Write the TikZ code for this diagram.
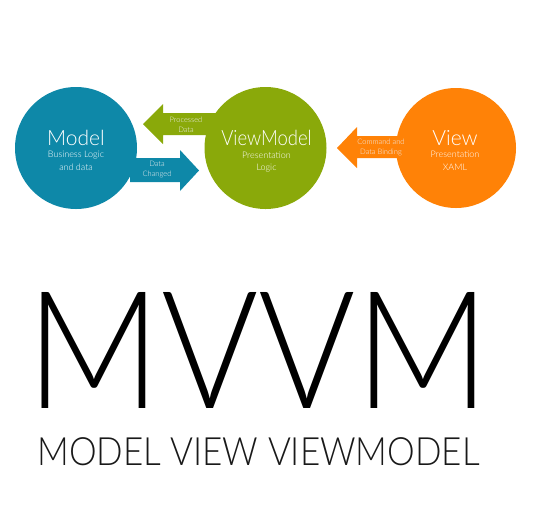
\documentclass[tikz,border=0pt]{standalone}
\usepackage{fontspec}
\usepackage{graphicx}
\setmainfont{Lato Light}
\begin{document}
\begin{tikzpicture}[x=1pt,y=-1pt,
  bubble/.style={circle, inner sep=0pt, minimum size=122pt},
  title/.style={anchor=base, text=white, font=\fontsize{21}{21}\selectfont},
  sub/.style={text=white, font=\fontsize{9}{12.5}\selectfont, align=center},
  lbl/.style={text=white!90!gray, font=\fontsize{7.5}{10}\selectfont, align=center}]
\definecolor{modelc}{HTML}{0E88A8}
\definecolor{vmc}{HTML}{8AA90A}
\definecolor{viewc}{HTML}{FF8207}
\useasboundingbox (0,0) rectangle (538,515);

% block arrows, drawn under the circles
\fill[vmc] (143,124) -- (163,104) -- (163,113) -- (225,113) -- (225,135) -- (163,135) -- (163,144) -- cycle;
\fill[modelc] (130,158) -- (180,158) -- (180,150) -- (199,170.5) -- (180,191) -- (180,182) -- (130,182) -- cycle;
\fill[viewc] (337,148) -- (357,127) -- (357,136) -- (410,136) -- (410,158) -- (357,158) -- (357,168) -- cycle;

% the three layers
\node[bubble, fill=modelc] (model) at (76,148) {};
\node[bubble, fill=vmc] (vm) at (265.5,148) {};
\node[bubble, fill=viewc, minimum size=120pt] (view) at (456,148) {};

\node[title] (modelt) at (76,145) {Model};
\node[sub] (models) at (76,161) {Business Logic\\and data};
\node[title] (vmt) at (266.5,145) {\scalebox{0.88}[1]{ViewModel}};
\node[sub] (vms) at (266.5,162) {Presentation\\Logic};
\node[title] (viewt) at (455,145) {View};
\node[sub] (views) at (455,161) {Presentation\\XAML};

\node[lbl] (pd) at (186,125) {Processed\\Data};
\node[lbl] (dc) at (157,170) {Data\\Changed};
\node[lbl] (cb) at (381,147) {Command and\\Data Binding};

% heading
\node[anchor=base, font=\fontsize{164}{164}\selectfont, inner sep=0pt] (big) at (258.5,408) {\scalebox{0.905}[1]{MVVM}};
\node[anchor=base, font=\fontsize{39}{39}\selectfont, inner sep=0pt, text=black!90] (sub) at (258.5,465) {\scalebox{0.896}[1]{MODEL VIEW VIEWMODEL}};
\end{tikzpicture}
\end{document}
